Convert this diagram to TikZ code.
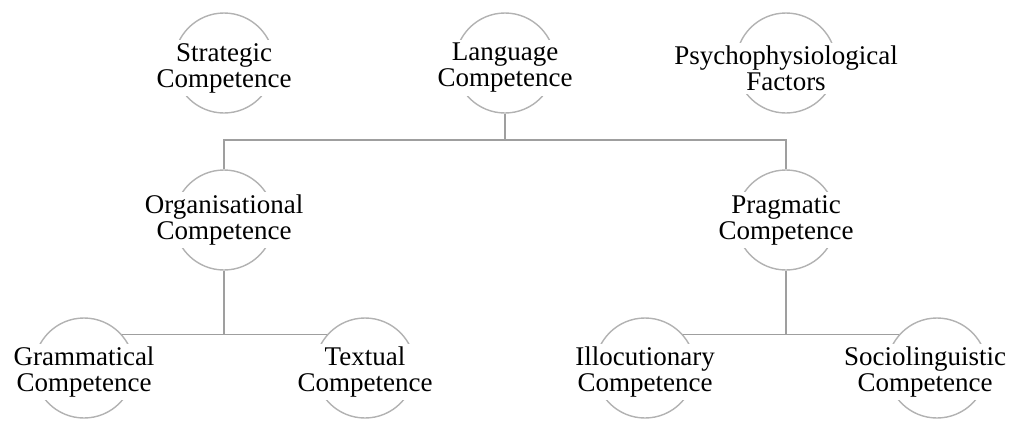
\documentclass[tikz,border=0pt]{standalone}
\usepackage{fontspec}
\setmainfont{Liberation Serif}

\begin{document}
\begin{tikzpicture}[x=0.5pt,y=-0.5pt,
  ring/.style={circle,draw=gray!60,line width=0.7pt,fill=white,minimum size=50pt,inner sep=0pt},
  txt/.style={fill=white,align=center,inner sep=1.5pt,text=black,
    font=\fontsize{13.5}{13}\selectfont},
  link/.style={draw=gray!75,line width=0.7pt}]
\useasboundingbox (0,0) rectangle (1014,425);
% circles
\node[ring] (strat) at (224,63) {};
\node[ring] (lang) at (505,63) {};
\node[ring] (psych) at (786,63) {};
\node[ring] (orga) at (224,220) {};
\node[ring] (prag) at (786,220) {};
\node[ring] (gram) at (84,368) {};
\node[ring] (textual) at (365,368) {};
\node[ring] (illoc) at (645,368) {};
\node[ring] (socio) at (937,368) {};
% labels over the circles
\node[txt,yshift=-2.5pt] (strat-t) at (strat) {Strategic\\Competence};
\node[txt,yshift=-2.5pt] (lang-t) at (lang) {Language\\Competence};
\node[txt,yshift=-2.5pt] (psych-t) at (psych) {Psychophysiological\\Factors};
\node[txt] (orga-t) at (orga) {Organisational\\Competence};
\node[txt] (prag-t) at (prag) {Pragmatic\\Competence};
\node[txt,yshift=-2pt] (gram-t) at (gram) {Grammatical\\Competence};
\node[txt,yshift=-2pt] (textual-t) at (textual) {Textual\\Competence};
\node[txt,yshift=-2pt] (illoc-t) at (illoc) {Illocutionary\\Competence};
\node[txt,yshift=-2pt] (socio-t) at ([xshift=-6pt]socio) {Sociolinguistic\\Competence};
% tree
\coordinate (hub) at (505,140);
\draw[link] (lang.south) -- (hub);
\draw[link] (orga.north) |- (hub) -| (prag.north);
\draw[link] (orga.south) -- (orga.south|-gram.41);
\draw[link] (gram.41) -- (textual.139);
\draw[link] (prag.south) -- (prag.south|-illoc.41);
\draw[link] (illoc.41) -- (socio.139);
\end{tikzpicture}
\end{document}
